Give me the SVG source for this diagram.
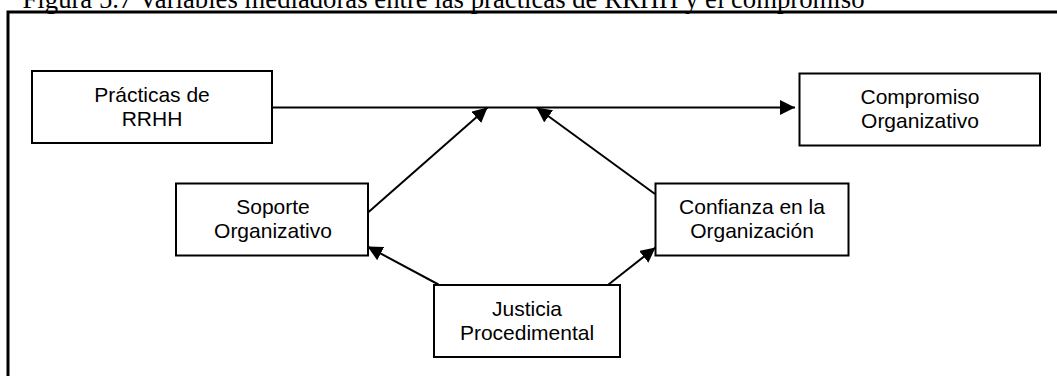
<svg xmlns="http://www.w3.org/2000/svg" width="1057" height="376" viewBox="0 0 1057 376">
  <style>
    .title { font-family: "Liberation Serif", "Times New Roman", serif; font-size: 26.6px; fill: #000; }
    .box { fill: #fff; stroke: #000; stroke-width: 2; }
    .label { font-family: "Liberation Sans", Arial, sans-serif; font-size: 21px; fill: #000; text-anchor: middle; }
    .edge { stroke: #000; stroke-width: 2; fill: none; marker-end: url(#arrow); }
    .frame { stroke: #000; stroke-width: 3; fill: none; }
  </style>
  <defs>
    <marker id="arrow" markerUnits="userSpaceOnUse" markerWidth="16" markerHeight="16" refX="15" refY="7.5" orient="auto">
      <path d="M0,0 L15,7.5 L0,15 z" fill="#000"/>
    </marker>
  </defs>

  <rect width="1057" height="376" fill="#fff"/>

  <!-- caption, partly cut off by the top edge -->
  <text class="title" x="22.5" y="8" textLength="842" lengthAdjust="spacingAndGlyphs">Figura 5.7 Variables mediadoras entre las prácticas de RRHH y el compromiso</text>

  <!-- figure frame -->
  <path class="frame" d="M8,376 L8,12 L1057,12"/>

  <!-- connectors -->
  <g id="connectors">
    <line class="edge" x1="272" y1="107.5" x2="795" y2="107.5"/>
    <line class="edge" x1="368" y1="212.5" x2="487.5" y2="107.5"/>
    <line class="edge" x1="655" y1="194" x2="536.5" y2="107.5"/>
    <line class="edge" x1="438.5" y1="284.5" x2="367.5" y2="246.5"/>
    <line class="edge" x1="608.5" y1="284.5" x2="655.5" y2="247.5"/>
  </g>

  <g id="practicas">
    <rect class="box" x="32" y="71" width="240" height="72"/>
    <text class="label" x="152" y="101.7">Prácticas de</text>
    <text class="label" x="152" y="125.7">RRHH</text>
  </g>

  <g id="compromiso">
    <rect class="box" x="799.5" y="73.5" width="240.5" height="72"/>
    <text class="label" x="920" y="104.3">Compromiso</text>
    <text class="label" x="920" y="128">Organizativo</text>
  </g>

  <g id="soporte">
    <rect class="box" x="176" y="183.5" width="192" height="72"/>
    <text class="label" x="273" y="214.3">Soporte</text>
    <text class="label" x="273" y="238.3">Organizativo</text>
  </g>

  <g id="confianza">
    <rect class="box" x="655.5" y="183.5" width="193" height="72"/>
    <text class="label" x="752" y="214">Confianza en la</text>
    <text class="label" x="752" y="238.3">Organización</text>
  </g>

  <g id="justicia">
    <rect class="box" x="434" y="285" width="186" height="72"/>
    <text class="label" x="527" y="316">Justicia</text>
    <text class="label" x="527" y="339.5">Procedimental</text>
  </g>
</svg>
